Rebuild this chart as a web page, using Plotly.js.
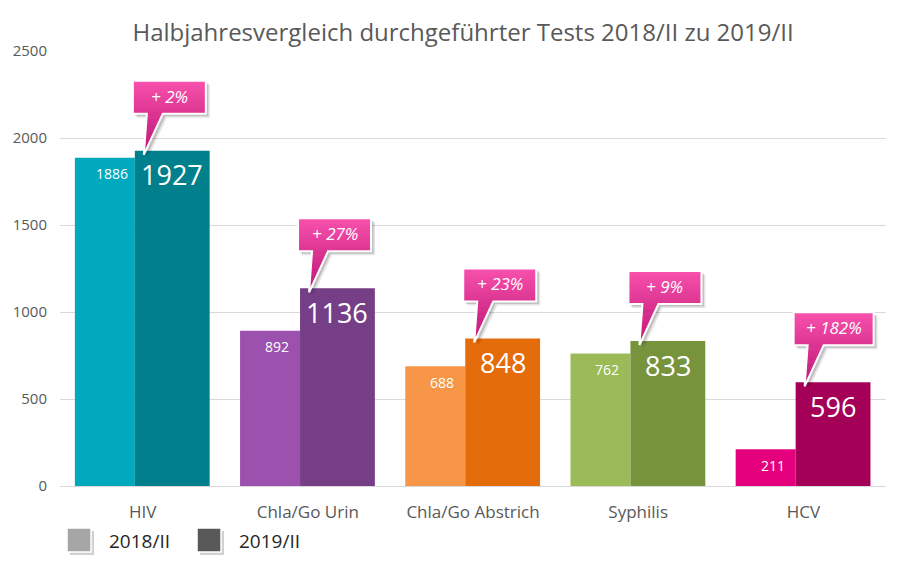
<!DOCTYPE html>
<html><head><meta charset="utf-8">
<script src="https://cdn.plot.ly/plotly-3.0.1.min.js"></script>
<style>html,body{margin:0;padding:0;background:#fff}#chart{width:908px;height:575px}</style>
</head><body><div id="chart"></div>
<script>
const categories = ['HIV', 'Chla/Go Urin', 'Chla/Go Abstrich', 'Syphilis', 'HCV'];
const values2018 = [1886, 892, 688, 762, 211];
const values2019 = [1927, 1136, 848, 833, 596];
const changeLabels = ['+ 2%', '+ 27%', '+ 23%', '+ 9%', '+ 182%'];
const seriesNames = ['2018/II', '2019/II'];
const yTicks = [0, 500, 1000, 1500, 2000, 2500];
const titleText = 'Halbjahresvergleich durchgeführter Tests 2018/II zu 2019/II';

const colors2018 = ['#00a9be', '#9b51ad', '#f79646', '#9bbb59', '#e5007d'];
const colors2019 = ['#007f8c', '#763e87', '#e46c0a', '#77933c', '#a50057'];
const legendColors = ['#a6a6a6', '#595959'];

const FONT = '"Open Sans", sans-serif';
const idx = categories.map((_, i) => i);
const OFF18 = -0.41, W18 = 0.363, OFF19 = -0.047, W19 = 0.453;

const traces = [
  {type: 'bar', name: seriesNames[0], x: idx, y: values2018, offset: OFF18, width: W18,
   marker: {color: colors2018, line: {width: 0}}, hoverinfo: 'skip', showlegend: false},
  {type: 'bar', name: seriesNames[1], x: idx, y: values2019, offset: OFF19, width: W19,
   marker: {color: colors2019, line: {width: 0}}, hoverinfo: 'skip', showlegend: false}
];

function hex2rgb(h) { return [1, 3, 5].map(k => parseInt(h.slice(k, k + 2), 16)); }
function mix(a, b, t) {
  const A = hex2rgb(a), B = hex2rgb(b);
  return 'rgb(' + A.map((v, k) => Math.round(v + (B[k] - v) * t)).join(',') + ')';
}

const shapes = [];
const annotations = [];

// data labels
idx.forEach(i => {
  annotations.push({x: i + OFF18 + W18 / 2, y: values2018[i], xref: 'x', yref: 'y',
    text: String(values2018[i]), showarrow: false, xanchor: 'center', yanchor: 'middle',
    xshift: 7, yshift: -16, font: {family: FONT, size: 14, color: '#ffffff'}});
  annotations.push({x: i + OFF19 + W19 / 2, y: values2019[i], xref: 'x', yref: 'y',
    text: String(values2019[i]), showarrow: false, xanchor: 'center', yanchor: 'middle',
    yshift: -24, font: {family: FONT, size: 27, color: '#ffffff'}});
});

// callouts
const C0 = '#f852ad', C1 = '#dc3592', C2 = '#c0167a';
idx.forEach(i => {
  const xa = i + OFF19, ya = values2019[i];
  const label = changeLabels[i];
  const w = label.length >= 6 ? 80 : 73;
  const L = -2, R = L + w, B = 37, T = 70;
  const tx = 9, ty = -4, bl = 12, br = 28;
  const base = {type: 'path', xref: 'x', yref: 'y', xsizemode: 'pixel', ysizemode: 'pixel',
    xanchor: xa, yanchor: ya, layer: 'above'};
  const outline = (dx, dy) =>
    `M${L + dx},${T + dy} L${R + dx},${T + dy} L${R + dx},${B + dy} L${br + dx},${B + dy} L${tx + dx},${ty + dy} L${bl + dx},${B + dy} L${L + dx},${B + dy} Z`;
  shapes.push(Object.assign({}, base, {path: outline(4, -4), fillcolor: 'rgba(0,0,0,0.10)', line: {width: 0}}));
  shapes.push(Object.assign({}, base, {path: outline(2.5, -2.5), fillcolor: 'rgba(0,0,0,0.16)', line: {width: 0}}));
  const n = 11;
  for (let k = 0; k < n; k++) {
    const yt = T - k * (T - B) / n, yb = Math.max(B - 0.1, yt - (T - B) / n - 0.7);
    shapes.push(Object.assign({}, base, {path: `M${L},${yt} L${R},${yt} L${R},${yb} L${L},${yb} Z`,
      fillcolor: mix(C0, C1, (k + 0.5) / n), line: {width: 0}}));
  }
  const m = 7;
  const ex = (y, e) => tx + (y - ty) / (B - ty) * (e - tx);
  for (let j = 0; j < m; j++) {
    const yA = B - j * (B - ty) / m + (j === 0 ? 0.6 : 0.5), yB = B - (j + 1) * (B - ty) / m;
    shapes.push(Object.assign({}, base, {path: `M${ex(yA, bl)},${yA} L${ex(yA, br)},${yA} L${ex(yB, br)},${yB} L${ex(yB, bl)},${yB} Z`,
      fillcolor: mix(C1, C2, (j + 0.5) / m), line: {width: 0}}));
  }
  shapes.push(Object.assign({}, base, {path: outline(0, 0), fillcolor: 'rgba(0,0,0,0)', line: {color: '#ffffff', width: 2}}));
  annotations.push({x: xa, y: ya, xref: 'x', yref: 'y', text: label, showarrow: false,
    xanchor: 'center', yanchor: 'middle', xshift: (L + R) / 2, yshift: (B + T) / 2 + 1,
    font: {family: FONT, size: 17, color: '#ffffff', style: 'italic'}});
});

// manual legend
seriesNames.forEach((name, k) => {
  const x0 = k === 0 ? 7 : 137;
  const sb = {type: 'rect', xref: 'paper', yref: 'paper', xsizemode: 'pixel', ysizemode: 'pixel',
    xanchor: 0, yanchor: 0, layer: 'above'};
  shapes.push(Object.assign({}, sb, {x0: x0 + 3, x1: x0 + 27, y0: -45, y1: -69, fillcolor: 'rgba(0,0,0,0.18)', line: {width: 0}}));
  shapes.push(Object.assign({}, sb, {x0: x0, x1: x0 + 24, y0: -42, y1: -66, fillcolor: legendColors[k], line: {color: '#ffffff', width: 1.5}}));
  annotations.push({x: 0, y: 0, xref: 'paper', yref: 'paper', text: name, showarrow: false,
    xanchor: 'left', yanchor: 'middle', xshift: x0 + 40, yshift: -55,
    font: {family: FONT, size: 19, color: '#262626'}});
});

const layout = {
  width: 908, height: 575,
  margin: {l: 60, r: 22, t: 51, b: 89, pad: 0},
  paper_bgcolor: '#ffffff', plot_bgcolor: '#ffffff',
  barmode: 'overlay',
  title: {text: titleText, font: {family: FONT, size: 24, color: '#595959'},
    x: 0.51, xref: 'container', xanchor: 'center', y: 1 - 33 / 575, yref: 'container', yanchor: 'middle'},
  xaxis: {range: [-0.5, 4.5], tickmode: 'array', tickvals: idx, ticktext: categories,
    showgrid: false, zeroline: false, showline: false, ticks: '', fixedrange: true,
    ticklabelstandoff: 14,
    tickfont: {family: FONT, size: 17, color: '#595959'}},
  yaxis: {range: [0, 2500], tickmode: 'array', tickvals: yTicks, ticktext: yTicks.map(String),
    showgrid: true, gridcolor: '#d9d9d9', gridwidth: 1, zeroline: true, zerolinecolor: '#d9d9d9', zerolinewidth: 1,
    showline: false, ticks: '', ticklabelstandoff: 12, fixedrange: true,
    tickfont: {family: FONT, size: 15, color: '#595959'}},
  shapes: shapes,
  annotations: annotations,
  showlegend: false,
  hovermode: false
};

Plotly.newPlot('chart', traces, layout, {staticPlot: true, displayModeBar: false});
</script>
</body></html>
